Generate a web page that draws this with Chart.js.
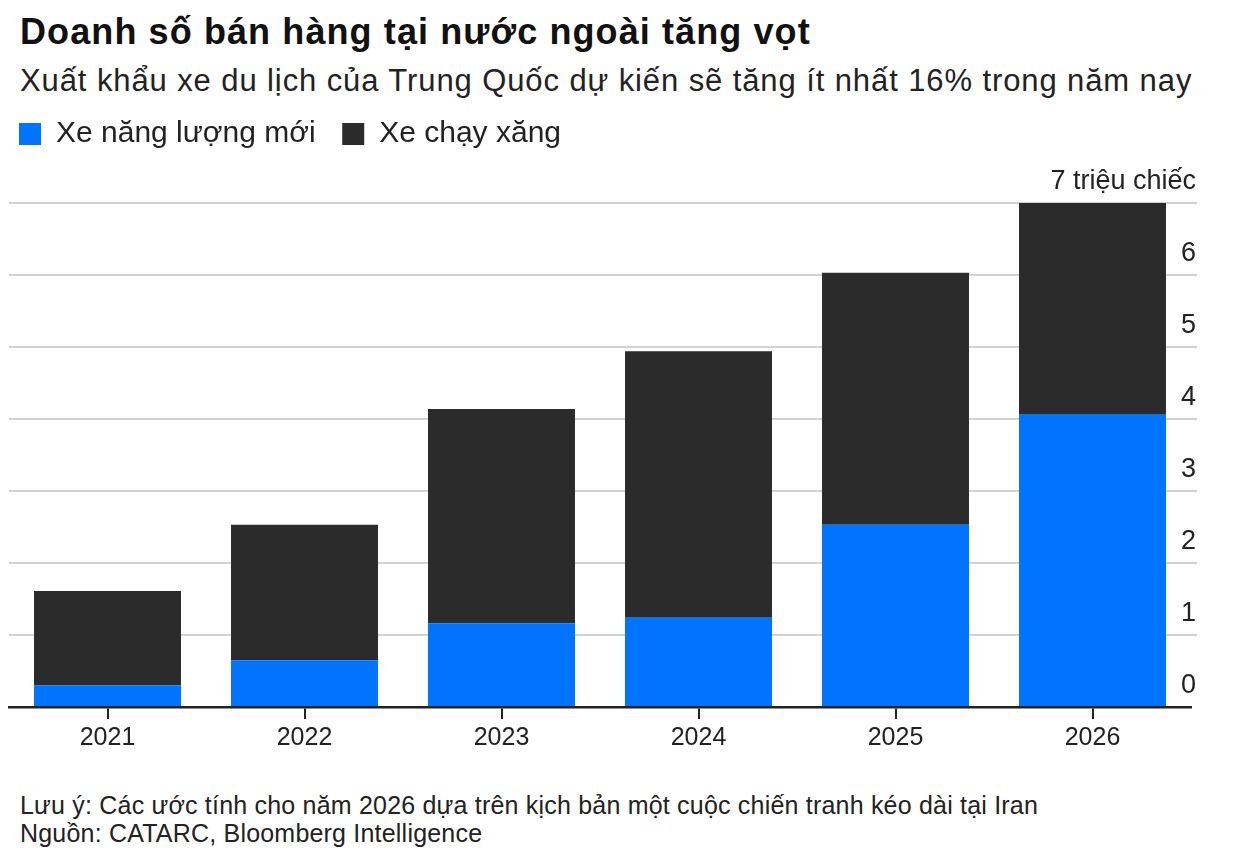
<!DOCTYPE html>
<html>
<head>
<meta charset="utf-8">
<script src="https://cdn.jsdelivr.net/npm/chart.js@4"></script>
<style>
  html, body { margin: 0; padding: 0; background: #fff; }
  body { width: 1245px; height: 864px; position: relative; overflow: hidden;
         font-family: "Liberation Sans", Arial, sans-serif; color: #111; }
  #title { position: absolute; left: 20px; top: 11px; font-size: 36px; font-weight: bold; letter-spacing: 1.1px; white-space: nowrap; }
  #subtitle { position: absolute; left: 20px; top: 63px; font-size: 31px; color: #222; letter-spacing: 0.9px; white-space: nowrap; }
  #wrap { position: absolute; left: 0; top: 109px; width: 1245px; height: 661px; }
  .note { position: absolute; left: 20px; font-size: 25px; color: #222; letter-spacing: 0.2px; white-space: nowrap; }
</style>
</head>
<body>
<div id="title">Doanh số bán hàng tại nước ngoài tăng vọt</div>
<div id="subtitle">Xuất khẩu xe du lịch của Trung Quốc dự kiến sẽ tăng ít nhất 16% trong năm nay</div>
<div id="wrap"><canvas id="salesChart"></canvas></div>
<div class="note" style="top:791px">Lưu ý: Các ước tính cho năm 2026 dựa trên kịch bản một cuộc chiến tranh kéo dài tại Iran</div>
<div class="note" style="top:819px">Nguồn: CATARC, Bloomberg Intelligence</div>

<script>
var years = ["2021", "2022", "2023", "2024", "2025", "2026"];
var nev = [0.30, 0.65, 1.16, 1.24, 2.53, 4.06];
var petrol = [1.31, 1.88, 2.98, 3.70, 3.50, 2.94];
var seriesNames = ["Xe năng lượng mới", "Xe chạy xăng"];
var yTicks = [0, 1, 2, 3, 4, 5, 6, 7];
var unitLabel = "7 triệu chiếc";

// push the plot down below the legend
var legendGap = {
  id: 'legendGap',
  beforeInit: function (chart) {
    var fit = chart.legend.fit;
    chart.legend.fit = function () {
      fit.bind(chart.legend)();
      this.height += 44;
    };
  }
};

var ctx = document.getElementById("salesChart");
var salesChart = new Chart(ctx, {
  type: 'bar',
  data: {
    labels: years,
    datasets: [{
      label: seriesNames[0],
      data: nev,
      backgroundColor: '#0073ff',
      barPercentage: 0.746,
      categoryPercentage: 1
    }, {
      label: seriesNames[1],
      data: petrol,
      backgroundColor: '#2b2b2b',
      barPercentage: 0.746,
      categoryPercentage: 1
    }]
  },
  plugins: [legendGap],
  options: {
    responsive: true,
    maintainAspectRatio: false,
    animation: false,
    layout: { padding: { left: 9, right: 38, top: 0, bottom: 13 } },
    plugins: {
      legend: {
        position: 'top',
        align: 'start',
        labels: {
          boxWidth: 22,
          boxHeight: 22,
          padding: 10,
          color: '#222',
          font: { family: 'Liberation Sans', size: 30 },
          generateLabels: function (chart) {
            var items = Chart.defaults.plugins.legend.labels.generateLabels(chart);
            // a little more room between the two entries
            items[0].text = items[0].text + '\u00a0\u00a0';
            return items;
          }
        }
      },
      tooltip: { enabled: false }
    },
    scales: {
      x: {
        stacked: true,
        offset: true,
        grid: {
          offset: false,
          drawOnChartArea: false,
          drawTicks: true,
          tickLength: 12,
          color: '#222',
          lineWidth: 2
        },
        border: { display: true, color: '#222', width: 2.5 },
        ticks: {
          color: '#222',
          padding: 4,
          font: { family: 'Liberation Sans', size: 25 }
        }
      },
      y: {
        stacked: true,
        position: 'right',
        min: 0,
        max: 7,
        afterBuildTicks: function (scale) {
          scale.ticks = yTicks.map(function (v) { return { value: v }; });
        },
        grid: {
          color: function (c) { return c.tick && c.tick.value === 0 ? 'rgba(0,0,0,0)' : '#d2d2d2'; },
          lineWidth: 2,
          drawTicks: true,
          tickLength: 6
        },
        border: { display: false },
        ticks: {
          mirror: true,
          padding: 5,
          labelOffset: -21,
          color: '#222',
          font: { family: 'Liberation Sans', size: 27 },
          callback: function (value) { return value === 7 ? unitLabel : value; }
        }
      }
    }
  }
});
</script>
</body>
</html>
